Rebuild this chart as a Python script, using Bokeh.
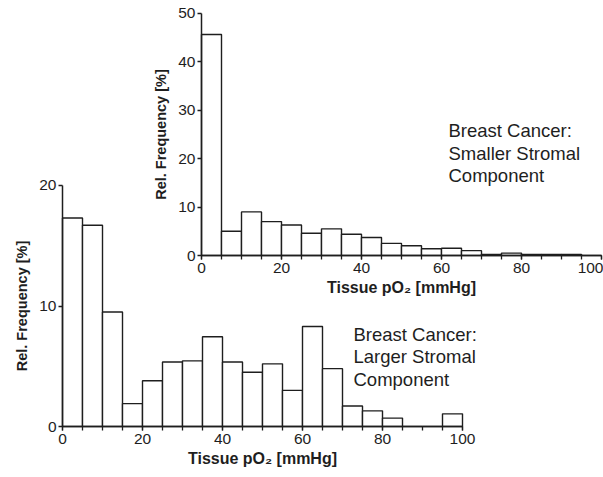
from bokeh.plotting import figure
from bokeh.models import Range1d, LinearAxis, SingleIntervalTicker, Label, ColumnDataSource
from bokeh.embed import file_html
from bokeh.resources import INLINE

# Bin edges (tissue pO2, mmHg)
bin_left = [0, 5, 10, 15, 20, 25, 30, 35, 40, 45, 50, 55, 60, 65, 70, 75, 80, 85, 90, 95]
bin_right = [5, 10, 15, 20, 25, 30, 35, 40, 45, 50, 55, 60, 65, 70, 75, 80, 85, 90, 95, 100]

# Relative frequency [%] – breast cancer, smaller stromal component (upper chart)
smaller_stromal = [45.6, 5.0, 9.0, 7.0, 6.3, 4.6, 5.5, 4.4, 3.7, 2.5,
                   2.0, 1.4, 1.5, 1.0, 0.2, 0.5, 0.2, 0.2, 0.2, 0.0]

# Relative frequency [%] – breast cancer, larger stromal component (lower chart)
larger_stromal = [17.3, 16.7, 9.5, 1.9, 3.8, 5.35, 5.45, 7.45, 5.35, 4.5,
                  5.2, 3.0, 8.3, 4.8, 1.7, 1.3, 0.7, 0.0, 0.0, 1.05]

x_title = "Tissue pO\u2082 [mmHg]"
y_title = "Rel. Frequency [%]"
note_small = "Breast Cancer:\nSmaller Stromal\nComponent"
note_large = "Breast Cancer:\nLarger Stromal\nComponent"

INK = "#1e1e1e"
FONT = "Liberation Sans"

p = figure(width=603, height=477,
           x_range=Range1d(-15.5, 135.25), y_range=Range1d(-4.23, 35.35),
           x_axis_type=None, y_axis_type=None,
           toolbar_location=None, output_backend="svg",
           min_border=0, outline_line_color=None)
p.extra_x_ranges = {"tx": Range1d(-50.25, 100.5)}
p.extra_y_ranges = {"ty": Range1d(-45.81, 52.62)}

src_large = ColumnDataSource(dict(left=bin_left, right=bin_right, top=larger_stromal,
                                  bottom=[0] * len(bin_left)))
src_small = ColumnDataSource(dict(left=bin_left, right=bin_right, top=smaller_stromal,
                                  bottom=[0] * len(bin_left)))

p.quad(left="left", right="right", top="top", bottom="bottom", source=src_large,
       fill_color="white", line_color=INK, line_width=1.4)
p.quad(left="left", right="right", top="top", bottom="bottom", source=src_small,
       fill_color="white", line_color=INK, line_width=1.4,
       x_range_name="tx", y_range_name="ty")


def style(ax, is_x):
    ax.axis_line_color = INK
    ax.axis_line_width = 1.5
    ax.major_tick_line_color = INK
    ax.minor_tick_line_color = INK
    ax.major_tick_line_width = 1.3
    ax.minor_tick_line_width = 1.3
    ax.major_tick_in = 0
    ax.major_tick_out = 4
    ax.minor_tick_in = 0
    ax.minor_tick_out = 4
    ax.major_label_text_font = FONT
    ax.major_label_text_font_size = "15.5px"
    ax.major_label_text_color = INK
    ax.axis_label_text_font = FONT
    ax.axis_label_text_font_style = "bold"
    ax.axis_label_text_color = INK
    if is_x:
        ax.major_label_standoff = 3
        ax.axis_label_text_font_size = "16px"
        ax.axis_label_standoff = 3
    else:
        ax.major_label_standoff = 2
        ax.axis_label_text_font_size = "14.5px"
        ax.axis_label_standoff = 6


# lower chart axes
xb = LinearAxis(fixed_location=0, bounds=(0, 100),
                ticker=SingleIntervalTicker(interval=20, num_minor_ticks=4),
                axis_label=x_title)
yb = LinearAxis(fixed_location=0, bounds=(0, 20),
                ticker=SingleIntervalTicker(interval=10, num_minor_ticks=0),
                axis_label=y_title)
# upper chart axes
xt = LinearAxis(x_range_name="tx", y_range_name="ty", fixed_location=0, bounds=(0, 100),
                ticker=SingleIntervalTicker(interval=20, num_minor_ticks=4),
                axis_label=x_title)
yt = LinearAxis(x_range_name="tx", y_range_name="ty", fixed_location=0, bounds=(0, 50),
                ticker=SingleIntervalTicker(interval=10, num_minor_ticks=0),
                axis_label=y_title)
for ax, isx in ((xb, True), (yb, False), (xt, True), (yt, False)):
    style(ax, isx)
p.add_layout(xb, "below")
p.add_layout(yb, "left")
p.add_layout(xt, "below")
p.add_layout(yt, "left")

p.add_layout(Label(x=96.5, y=25.4, text=note_small, text_font=FONT, text_font_size="18.5px",
                   text_color=INK, text_baseline="top", text_align="left", text_line_height=1.06))
p.add_layout(Label(x=72.75, y=8.5, text=note_large, text_font=FONT, text_font_size="18.5px",
                   text_color=INK, text_baseline="top", text_align="left", text_line_height=1.06))

open("out.html", "w").write(file_html(p, INLINE))
